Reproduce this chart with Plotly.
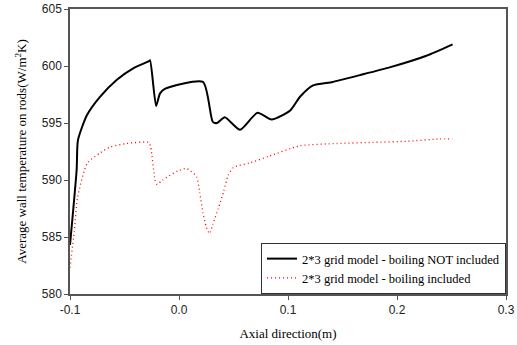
import plotly.graph_objects as go

# Black: boiling NOT included
x_not = [-0.1, -0.0939, -0.0927, -0.0844, -0.0725, -0.057, -0.042, -0.028, -0.0266,
         -0.021, -0.0174, -0.013, 0.022, 0.031, 0.035, 0.042, 0.056, 0.072, 0.085,
         0.102, 0.111, 0.123, 0.141, 0.166, 0.194, 0.227, 0.251]
y_not = [584.3, 590.9, 593.5, 595.7, 597.3, 598.8, 599.8, 600.4, 600.5,
         596.5, 597.6, 598.0, 598.6, 595.1, 595.0, 595.5, 594.4, 595.9, 595.3,
         596.1, 597.3, 598.3, 598.6, 599.2, 599.9, 600.9, 601.9]

# Red: boiling included
x_inc = [-0.1, -0.096, -0.093, -0.084, -0.072, -0.063, -0.048, -0.028, -0.026,
         -0.022, -0.020, -0.015, -0.001, 0.007, 0.016, 0.019, 0.022, 0.025, 0.028,
         0.031, 0.036, 0.041, 0.045, 0.050, 0.065, 0.083, 0.111, 0.145, 0.178,
         0.209, 0.239, 0.251]
y_inc = [582.3, 585.6, 588.5, 591.5, 592.4, 592.9, 593.2, 593.3, 592.9,
         590.0, 589.6, 590.0, 590.8, 591.0, 590.3, 588.9, 587.1, 585.9, 585.3,
         586.1, 587.5, 589.0, 590.4, 591.1, 591.5, 592.1, 593.0, 593.2, 593.3,
         593.4, 593.6, 593.6]

x_ticks = [-0.1, 0.0, 0.1, 0.2, 0.3]
x_ticklabels = ["-0.1", "0.0", "0.1", "0.2", "0.3"]
y_ticks = [580, 585, 590, 595, 600, 605]

fig = go.Figure()
fig.add_trace(go.Scatter(x=x_not, y=y_not, mode="lines",
                         line=dict(color="black", width=2, shape="spline", smoothing=0.6),
                         name="2*3 grid model - boiling NOT included"))
fig.add_trace(go.Scatter(x=x_inc, y=y_inc, mode="lines",
                         line=dict(color="red", width=1.3, dash="1px,3px", shape="spline", smoothing=0.6),
                         name="2*3 grid model - boiling included"))

axis_common = dict(showgrid=False, zeroline=False, showline=True, linecolor="#555555",
                   linewidth=1.5, mirror=True, ticks="outside", ticklen=4,
                   tickcolor="#555555", automargin=False,
                   tickfont=dict(family="Liberation Sans", size=12, color="#222222"))

fig.update_layout(
    width=517, height=345,
    margin=dict(l=70, r=11, t=9, b=51),
    paper_bgcolor="white", plot_bgcolor="white",
    showlegend=True,
    legend=dict(x=1, y=0, xanchor="right", yanchor="bottom",
                bordercolor="#333333", borderwidth=1, bgcolor="white",
                font=dict(family="Liberation Serif", size=12.5, color="black"),
                tracegroupgap=0, itemwidth=30),
    xaxis=dict(range=[-0.1, 0.3], tickvals=x_ticks, ticktext=x_ticklabels,
               ticklabeloverflow="allow",
               title=dict(text="Axial direction(m)", standoff=13,
                          font=dict(family="Liberation Serif", size=13, color="black")),
               **axis_common),
    yaxis=dict(range=[580, 605], tickvals=y_ticks,
               title=dict(text="Average wall temperature on rods(W/m<sup>2</sup>K)", standoff=12,
                          font=dict(family="Liberation Serif", size=13, color="black")),
               **axis_common),
)

fig.write_html("out.html", config={"displayModeBar": False},
               post_script="document.body.style.margin='0';document.body.style.overflow='hidden';")
